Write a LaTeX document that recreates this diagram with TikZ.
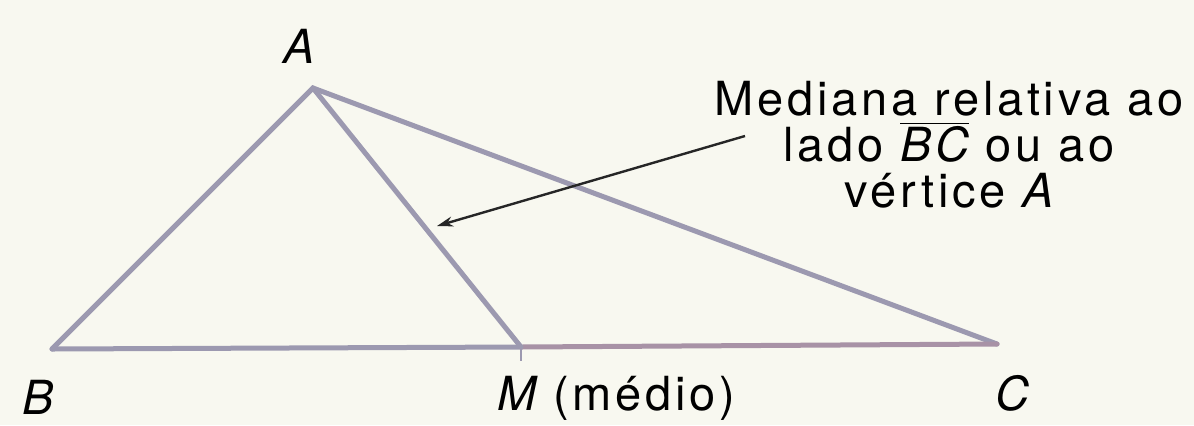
\documentclass[tikz,border=0pt]{standalone}
\usepackage{fontspec}
\setmainfont[LetterSpace=8]{TeX Gyre Heros}
\usetikzlibrary{arrows.meta,positioning}
\definecolor{paper}{RGB}{248,248,240}
\definecolor{side}{RGB}{156,153,176}
\definecolor{halfside}{RGB}{168,146,166}
\tikzset{
  lado/.style={line width=2.5pt,side,line cap=round},
  rotulo/.style={font=\fontsize{23.5}{23}\selectfont,inner sep=0pt},
}
\begin{document}
\begin{tikzpicture}[x=0.5pt,y=-0.5pt]
            % background
            \fill[paper] (0,0) rectangle (1194,425);
            \useasboundingbox (0,0) rectangle (1194,425);
            % define point
            \coordinate (A)  at (313, 88);
            \coordinate (B)  at (52, 349);
            \coordinate (C)  at (997, 344);
            \coordinate (M)  at (521, 347);
            % triangle
            \draw[lado] (B) -- (A) -- (C);
            \draw[lado] (B) -- (M);
            \draw[lado,halfside] (M) -- (C);
            \draw[lado] (A) -- (M);
            \draw[side,line width=0.6pt] (M) -- ++(0,14);
            % labels
            \node[rotulo] (lA) at (299, 46) {\itshape A};
            \node[rotulo] (lB) at (38, 397) {\itshape B};
            \node[rotulo] (lC) at (1012, 393) {\itshape C};
            \node[rotulo,anchor=west] (lM) at (497, 398) {\itshape M\upshape\ (médio)};
            \node[rotulo,align=center] (txt) at (949, 145)
              {Mediana relativa ao\\lado $\overline{\mbox{\itshape BC}}$ ou ao\\vértice \itshape A};
            % arrow
            \coordinate (p) at (745, 136);
            \coordinate (q) at (437, 226);
            \draw [-{Stealth[length=8pt,width=5pt]}, line width=1.2pt, black!85] (p) -- (q);
        \end{tikzpicture}
\end{document}
